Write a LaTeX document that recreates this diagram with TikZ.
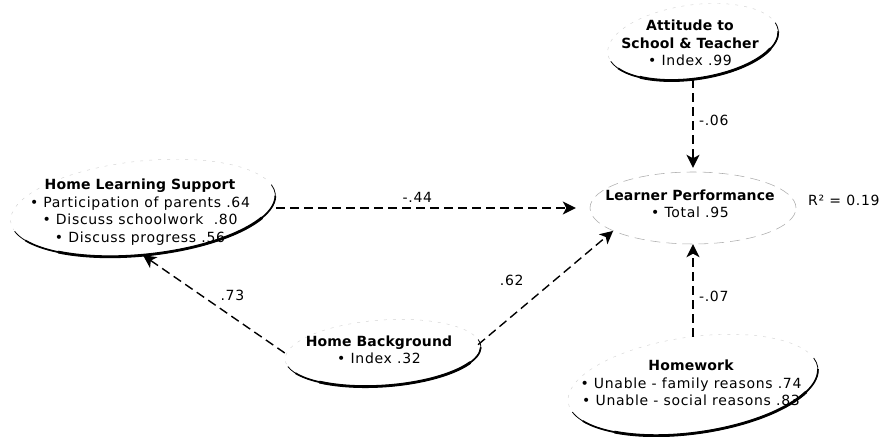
\documentclass[tikz,border=0pt]{standalone}
\usepackage{fontspec}
\setmainfont{DejaVu Sans}[LetterSpace=5]
\newfontfamily\headfont{DejaVu Sans}[LetterSpace=1]
\usetikzlibrary{arrows.meta,shapes.geometric}
\newcommand\hd[1]{{\headfont\bfseries #1}}
\newcommand\shadeoval[4]{%
  \begin{scope}[shift={(#1.center)},rotate=#4]
    \draw[faint] (20:#2pt and #3pt) arc[start angle=20,end angle=190,x radius=#2pt,y radius=#3pt];
    \draw[line width=0.8pt] (192:#2pt and #3pt) arc[start angle=192,end angle=372,x radius=#2pt,y radius=#3pt];
    \draw[line width=1.7pt] (205:#2pt and #3pt) arc[start angle=205,end angle=358,x radius=#2pt,y radius=#3pt];
    \draw[line width=2.8pt] (228:#2pt and #3pt) arc[start angle=228,end angle=332,x radius=#2pt,y radius=#3pt];
  \end{scope}}
\tikzset{
  oval/.style={ellipse, draw=none, inner sep=0pt},
  txt/.style={align=center, font=\fontsize{14}{17.5}\selectfont, inner sep=0pt},
  arr/.style={draw=black, line width=1.4pt, dash pattern=on 9pt off 5pt,
    -{Stealth[length=13pt,width=13pt,inset=3.5pt]}},
  lbl/.style={font=\fontsize{14}{17}\selectfont},
  faint/.style={draw=gray!35, line width=0.45pt, dash pattern=on 3pt off 6pt},
  faintb/.style={draw=gray!65, line width=0.55pt, dash pattern=on 10pt off 6pt},
}
\begin{document}
\begin{tikzpicture}[x=1pt,y=1pt]
\useasboundingbox (0,0) rectangle (890,436);

% ellipse outlines (as nodes)
\node[oval, minimum width=172pt, minimum height=74pt] (att) at (693,394) {};
\node[oval, minimum width=206pt, minimum height=72pt] (lp)  at (693,228) {};
\node[oval, minimum width=266pt, minimum height=94pt] (hls) at (143,228) {};
\node[oval, minimum width=196pt, minimum height=66pt] (hb)  at (383,83) {};
\node[oval, minimum width=252pt, minimum height=96pt] (hw)  at (693,51) {};

\shadeoval{att}{86}{37}{8}
\shadeoval{hls}{133}{47}{6}
\shadeoval{hb}{98}{33}{4}
\shadeoval{hw}{126}{48}{8}
\draw[faintb] (lp.center) ellipse[x radius=103pt, y radius=36pt];

% texts
\node[txt] (attT) at (690,393) {\hd{Attitude to}\\\hd{School \& Teacher}\\• Index .99};
\node[txt] (lpT)  at (690,232) {\hd{Learner Performance}\\• Total .95};
\node[txt] (hlsT) at (140,224) {\hd{Home Learning Support}\\• Participation of parents .64\\• Discuss schoolwork \ .80\\• Discuss progress .56};
\node[txt] (hbT)  at (379,86)  {\hd{Home Background}\\• Index .32};
\node[txt] (hwT)  at (691,53)  {\hd{Homework}\\• Unable - family reasons .74\\• Unable - social reasons .83};
\node[lbl, anchor=west, inner sep=0pt] (r2) at (808,236) {R² = 0.19};

% connectors
\draw[arr, shorten >=14pt] (hls.east) -- node[lbl, pos=.45, above=1pt] {-.44} (lp.west);
\draw[arr, shorten >=4pt] (att.south) -- node[lbl, pos=.45, right=2pt] {-.06} (lp.north);
\draw[arr] (hw.north) -- node[lbl, pos=.44, right=2pt] {-.07} (lp.south);
\draw[arr] (hb.5) -- node[lbl, pos=.5, left=18pt, yshift=7pt] {.62} (lp.196);
\draw[arr] (hb.west) -- node[lbl, pos=.37, above=12pt] {.73} (hls.south);
\end{tikzpicture}
\end{document}
